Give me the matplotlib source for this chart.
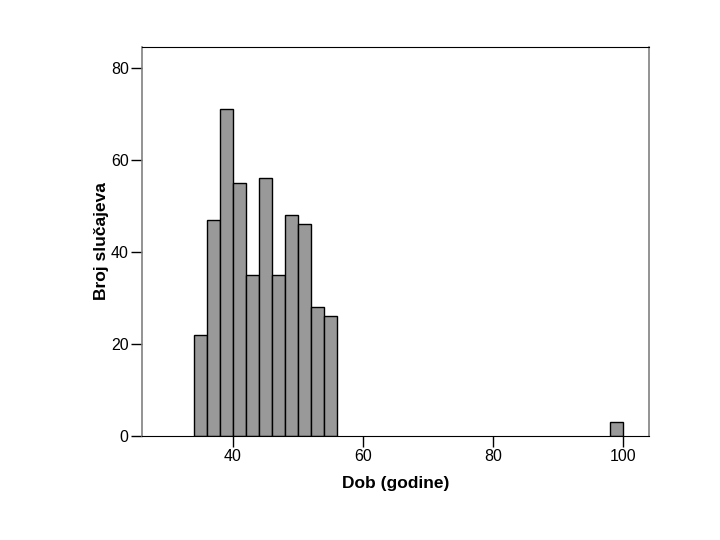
import matplotlib
matplotlib.use("Agg")
import matplotlib.pyplot as plt

plt.rcParams['font.family'] = ['Liberation Sans', 'DejaVu Sans']

bin_left = [34, 36, 38, 40, 42, 44, 46, 48, 50, 52, 54, 98]
counts = [22, 47, 71, 55, 35, 56, 35, 48, 46, 28, 26, 3]
bin_width = 2
x_ticks = [40, 60, 80, 100]
y_ticks = [0, 20, 40, 60, 80]

fig = plt.figure(figsize=(7.2, 5.4), dpi=100)
ax = fig.add_axes([0.197, 0.193, 0.704, 0.72])

ax.bar(bin_left, counts, width=bin_width, align='edge', color='#999999',
       edgecolor='black', linewidth=1.0, zorder=2)

ax.set_xlim(26, 104)
ax.set_ylim(0, 84.5)
ax.set_xticks(x_ticks)
ax.set_yticks(y_ticks)
ax.tick_params(axis='both', direction='out', length=8, width=1, labelsize=11.5,
               colors='black', pad=1.5)

for side in ['left', 'right']:
    ax.spines[side].set_color('#808080')
    ax.spines[side].set_linewidth(1.2)
ax.spines['top'].set_color('black')
ax.spines['bottom'].set_color('black')

ax.set_xlabel('Dob (godine)', fontsize=12.5, fontweight='bold', labelpad=9)
ax.set_ylabel('Broj slučajeva', fontsize=12.5, fontweight='bold', labelpad=1)

fig.savefig('out.png', dpi=100)
